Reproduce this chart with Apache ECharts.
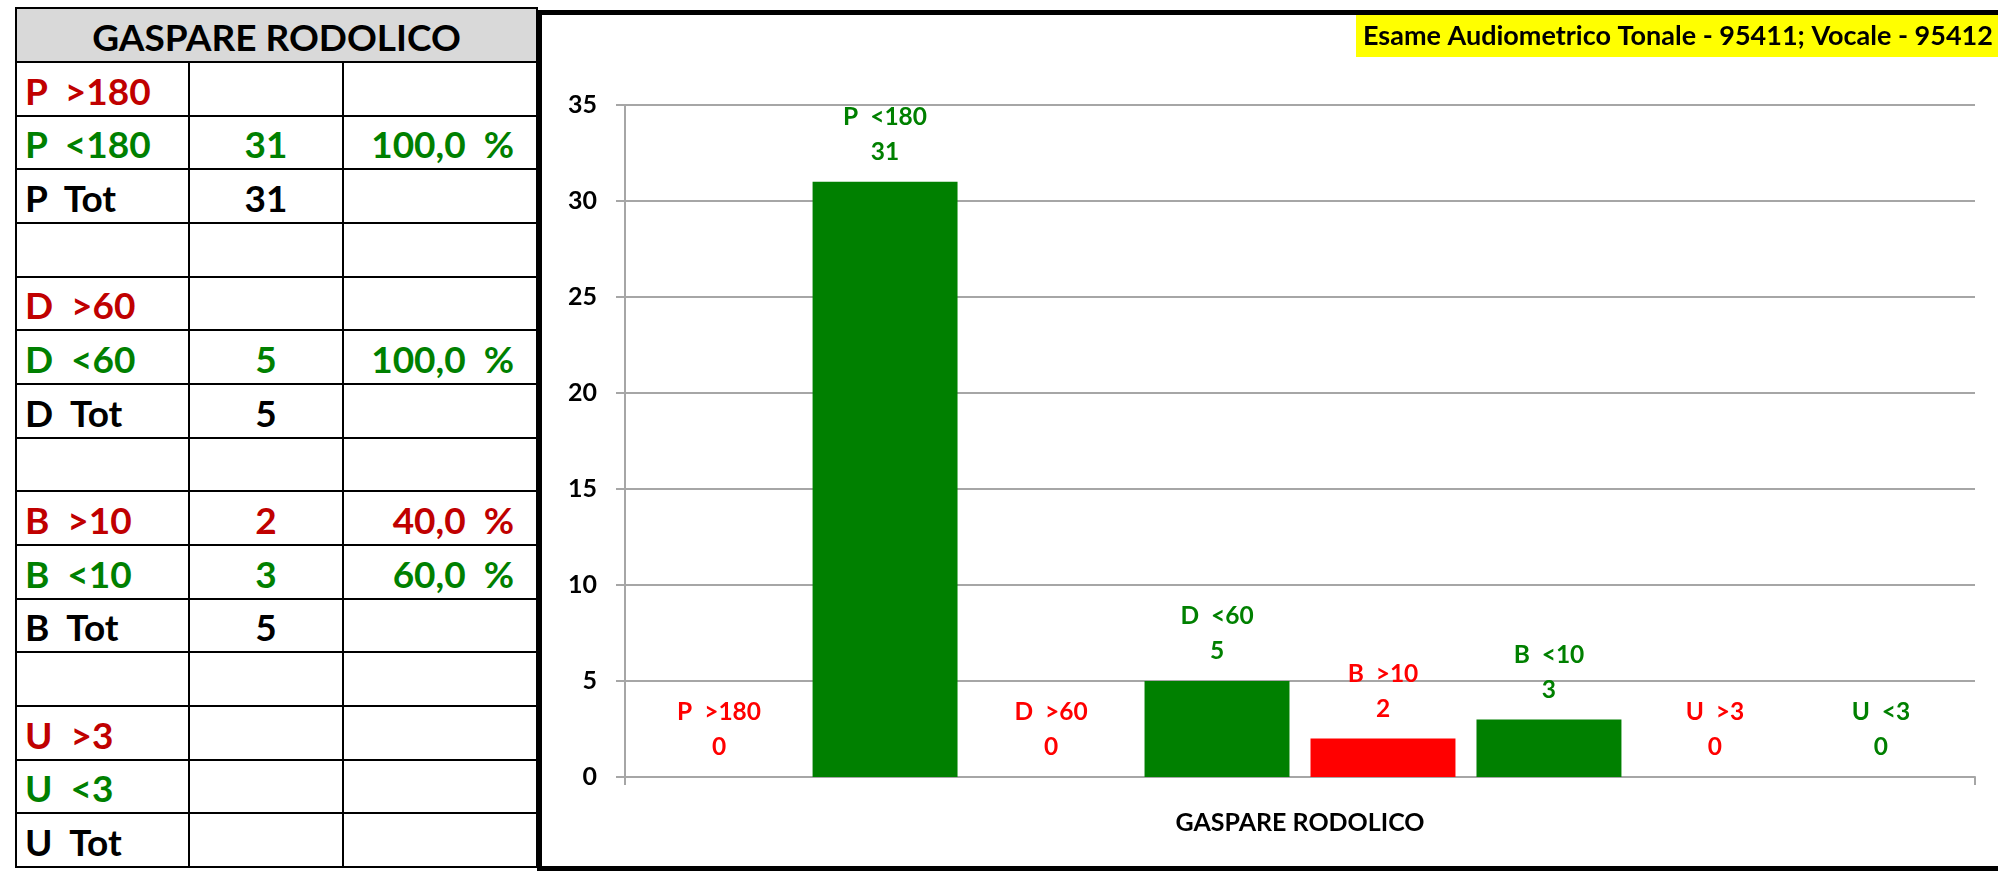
<!DOCTYPE html>
<html>
<head>
<meta charset="utf-8">
<script src="https://cdn.jsdelivr.net/npm/echarts@6/dist/echarts.min.js"></script>
<style>
  html, body { margin: 0; padding: 0; background: #fff; width: 1998px; height: 874px; overflow: hidden; }
  #sheet {
    position: absolute; left: 15px; top: 7px; width: 523px; height: 861px; box-sizing: border-box;
    display: grid; grid-template-columns: 171px 152px 1fr; grid-template-rows: 52px repeat(15, 1fr);
    gap: 2px; padding: 2px; background: #000;
    font-family: Lato, sans-serif; font-weight: bold; font-size: 37px;
  }
  #sheet div { background: #fff; display: flex; align-items: center; padding-top: 3px; box-sizing: border-box; white-space: pre; }
  #sheet .head { grid-column: 1 / 4; background: #d9d9d9; justify-content: center; color: #000; }
  #sheet .lbl { padding-left: 8px; }
  #sheet .num { justify-content: center; }
  #sheet .pct { justify-content: flex-end; padding-right: 22px; }
  #frame { position: absolute; left: 537px; top: 10px; width: 1480px; height: 861px; box-sizing: border-box; border: 5px solid #000; border-right: none; }
  #chart { position: absolute; left: 0; top: 0; width: 1998px; height: 874px; }
</style>
</head>
<body>
<div id="sheet"></div>
<div id="frame"></div>
<div id="chart"></div>
<script>
// Patient and exam codes
const patientName = 'GASPARE RODOLICO';
const chartTitle = 'Esame Audiometrico Tonale - 95411; Vocale - 95412';

// Bar series: one bar per threshold class
const seriesNames = ['P  >180', 'P  <180', 'D  >60', 'D  <60', 'B  >10', 'B  <10', 'U  >3', 'U  <3'];
const seriesValues = [0, 31, 0, 5, 2, 3, 0, 0];
const seriesIsOver = [true, false, true, false, true, false, true, false];

// Summary sheet rows
const tableLabels = ['P  >180', 'P  <180', 'P  Tot', '', 'D  >60', 'D  <60', 'D  Tot', '', 'B  >10', 'B  <10', 'B  Tot', '', 'U  >3', 'U  <3', 'U  Tot'];
const tableCounts = ['', '31', '31', '', '', '5', '5', '', '2', '3', '5', '', '', '', ''];
const tablePercents = ['', '100,0  %', '', '', '', '100,0  %', '', '', '40,0  %', '60,0  %', '', '', '', '', ''];
const tableKinds = ['over', 'under', 'tot', '', 'over', 'under', 'tot', '', 'over', 'under', 'tot', '', 'over', 'under', 'tot'];

// Summary sheet
const sheetColors = { over: '#c00000', under: '#008000', tot: '#000000', '': '#000000' };
const sheet = document.getElementById('sheet');
const head = document.createElement('div');
head.className = 'head';
head.textContent = patientName;
sheet.appendChild(head);
tableLabels.forEach((lbl, i) => {
  const color = sheetColors[tableKinds[i]];
  [[lbl, 'lbl'], [tableCounts[i], 'num'], [tablePercents[i], 'pct']].forEach(([txt, cls]) => {
    const c = document.createElement('div');
    c.className = cls;
    c.style.color = color;
    c.textContent = txt;
    sheet.appendChild(c);
  });
});

// Bar chart
const chart = echarts.init(document.getElementById('chart'));
const gridGray = '#a6a6a6';
chart.setOption({
  animation: false,
  textStyle: { fontFamily: 'Lato' },
  title: {
    text: chartTitle,
    left: 1356, top: 15,
    padding: [7, 40, 7, 7],
    backgroundColor: '#ffff00',
    textStyle: { fontFamily: 'Lato', fontSize: 27, fontWeight: 'bold', color: '#000', lineHeight: 28 }
  },
  grid: { left: 625, right: 23, top: 105, bottom: 97 },
  xAxis: {
    type: 'category',
    data: [patientName],
    axisLine: { lineStyle: { color: gridGray, width: 2 } },
    axisTick: { show: true, length: 8, lineStyle: { color: gridGray, width: 2 } },
    axisLabel: { fontFamily: 'Lato', fontSize: 25, fontWeight: 'bold', color: '#000', margin: 33 }
  },
  yAxis: {
    type: 'value', min: 0, max: 35, interval: 5,
    axisLine: { show: true, lineStyle: { color: gridGray, width: 2 } },
    axisTick: { show: true, length: 9, lineStyle: { color: gridGray, width: 2 } },
    splitLine: { lineStyle: { color: gridGray, width: 2 } },
    axisLabel: { fontFamily: 'Lato', fontSize: 25, fontWeight: 'bold', color: '#000', margin: 28 }
  },
  series: seriesNames.map((name, i) => {
    const color = seriesIsOver[i] ? '#ff0000' : '#008000';
    return {
      type: 'bar',
      name: name,
      data: [seriesValues[i]],
      barGap: '14.5%',
      barCategoryGap: '3.2%',
      itemStyle: { color: color },
      label: {
        show: true, position: 'top', distance: 12,
        formatter: '{a}\n{c}',
        fontFamily: 'Lato', fontSize: 24.5, fontWeight: 'bold', color: color, lineHeight: 35
      }
    };
  })
});
</script>
</body>
</html>
